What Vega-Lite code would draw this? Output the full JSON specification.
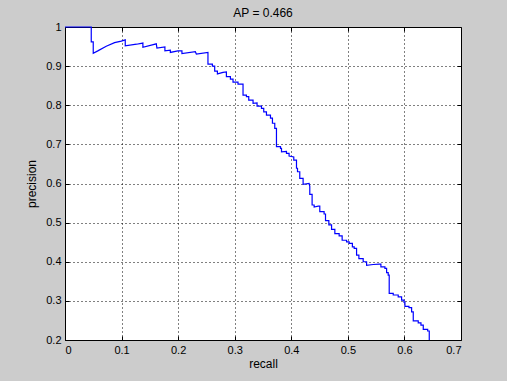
{
  "$schema": "https://vega.github.io/schema/vega-lite/v6.json",
  "width": 396,
  "height": 313,
  "autosize": {"type": "none"},
  "padding": {"left": 65, "top": 27, "right": 46, "bottom": 41},
  "background": "#cccccc",
  "title": {"text": "AP = 0.466", "font": "Liberation Sans", "fontSize": 12, "fontWeight": "normal", "color": "black", "offset": 1, "anchor": "middle"},
  "config": {
    "view": {"fill": "white", "stroke": "black", "strokeWidth": 1},
    "axis": {
      "labelFont": "Liberation Sans", "labelFontSize": 11, "labelColor": "black",
      "titleFont": "Liberation Sans", "titleFontSize": 12, "titleFontWeight": "normal", "titleColor": "black",
      "grid": true, "gridColor": "black", "gridDash": [1, 3], "gridOpacity": 1, "gridWidth": 1,
      "domain": false, "tickColor": "black", "tickSize": -4, "tickWidth": 1
    }
  },
  "data": {"values": [
    {"i":1,"recall":0,"precision":1.0},
    {"i":2,"recall":0.0464,"precision":1.0},
    {"i":3,"recall":0.0464,"precision":0.962},
    {"i":4,"recall":0.0499,"precision":0.962},
    {"i":5,"recall":0.0499,"precision":0.933},
    {"i":6,"recall":0.058,"precision":0.939},
    {"i":7,"recall":0.0729,"precision":0.951},
    {"i":8,"recall":0.0876,"precision":0.960},
    {"i":9,"recall":0.0995,"precision":0.964},
    {"i":10,"recall":0.1065,"precision":0.967},
    {"i":11,"recall":0.1065,"precision":0.952},
    {"i":12,"recall":0.1265,"precision":0.956},
    {"i":13,"recall":0.1377,"precision":0.959},
    {"i":14,"recall":0.1377,"precision":0.948},
    {"i":15,"recall":0.1614,"precision":0.957},
    {"i":16,"recall":0.1625,"precision":0.946},
    {"i":17,"recall":0.1766,"precision":0.949},
    {"i":18,"recall":0.1766,"precision":0.939},
    {"i":19,"recall":0.1862,"precision":0.941},
    {"i":20,"recall":0.1862,"precision":0.935},
    {"i":21,"recall":0.1996,"precision":0.939},
    {"i":22,"recall":0.2067,"precision":0.939},
    {"i":23,"recall":0.2067,"precision":0.932},
    {"i":24,"recall":0.2304,"precision":0.937},
    {"i":25,"recall":0.2322,"precision":0.931},
    {"i":26,"recall":0.2527,"precision":0.935},
    {"i":27,"recall":0.2527,"precision":0.905},
    {"i":28,"recall":0.2605,"precision":0.905},
    {"i":29,"recall":0.2605,"precision":0.900},
    {"i":30,"recall":0.2646,"precision":0.900},
    {"i":31,"recall":0.2646,"precision":0.887},
    {"i":32,"recall":0.2694,"precision":0.887},
    {"i":33,"recall":0.2694,"precision":0.880},
    {"i":34,"recall":0.2793,"precision":0.884},
    {"i":35,"recall":0.2853,"precision":0.885},
    {"i":36,"recall":0.2853,"precision":0.873},
    {"i":37,"recall":0.2924,"precision":0.873},
    {"i":38,"recall":0.2924,"precision":0.867},
    {"i":39,"recall":0.297,"precision":0.867},
    {"i":40,"recall":0.297,"precision":0.859},
    {"i":41,"recall":0.3058,"precision":0.859},
    {"i":42,"recall":0.3058,"precision":0.854},
    {"i":43,"recall":0.3147,"precision":0.854},
    {"i":44,"recall":0.3147,"precision":0.826},
    {"i":45,"recall":0.3207,"precision":0.826},
    {"i":46,"recall":0.3207,"precision":0.822},
    {"i":47,"recall":0.3248,"precision":0.822},
    {"i":48,"recall":0.3248,"precision":0.813},
    {"i":49,"recall":0.3324,"precision":0.813},
    {"i":50,"recall":0.3324,"precision":0.805},
    {"i":51,"recall":0.3395,"precision":0.806},
    {"i":52,"recall":0.3395,"precision":0.798},
    {"i":53,"recall":0.3473,"precision":0.798},
    {"i":54,"recall":0.3473,"precision":0.792},
    {"i":55,"recall":0.3513,"precision":0.792},
    {"i":56,"recall":0.3513,"precision":0.783},
    {"i":57,"recall":0.3561,"precision":0.783},
    {"i":58,"recall":0.3561,"precision":0.775},
    {"i":59,"recall":0.3632,"precision":0.775},
    {"i":60,"recall":0.3632,"precision":0.767},
    {"i":61,"recall":0.3667,"precision":0.767},
    {"i":62,"recall":0.3667,"precision":0.754},
    {"i":63,"recall":0.3708,"precision":0.754},
    {"i":64,"recall":0.3708,"precision":0.741},
    {"i":65,"recall":0.3738,"precision":0.741},
    {"i":66,"recall":0.3738,"precision":0.694},
    {"i":67,"recall":0.3809,"precision":0.694},
    {"i":68,"recall":0.3809,"precision":0.690},
    {"i":69,"recall":0.3827,"precision":0.690},
    {"i":70,"recall":0.3827,"precision":0.681},
    {"i":71,"recall":0.3915,"precision":0.682},
    {"i":72,"recall":0.3915,"precision":0.677},
    {"i":73,"recall":0.3961,"precision":0.677},
    {"i":74,"recall":0.3961,"precision":0.670},
    {"i":75,"recall":0.4044,"precision":0.668},
    {"i":76,"recall":0.4044,"precision":0.660},
    {"i":77,"recall":0.4092,"precision":0.660},
    {"i":78,"recall":0.4092,"precision":0.639},
    {"i":79,"recall":0.411,"precision":0.639},
    {"i":80,"recall":0.411,"precision":0.630},
    {"i":81,"recall":0.415,"precision":0.630},
    {"i":82,"recall":0.415,"precision":0.613},
    {"i":83,"recall":0.4209,"precision":0.613},
    {"i":84,"recall":0.4209,"precision":0.598},
    {"i":85,"recall":0.4315,"precision":0.600},
    {"i":86,"recall":0.4327,"precision":0.593},
    {"i":87,"recall":0.4327,"precision":0.572},
    {"i":88,"recall":0.4368,"precision":0.572},
    {"i":89,"recall":0.4368,"precision":0.545},
    {"i":90,"recall":0.4404,"precision":0.545},
    {"i":91,"recall":0.4404,"precision":0.540},
    {"i":92,"recall":0.4474,"precision":0.542},
    {"i":93,"recall":0.4504,"precision":0.542},
    {"i":94,"recall":0.4504,"precision":0.528},
    {"i":95,"recall":0.458,"precision":0.528},
    {"i":96,"recall":0.458,"precision":0.522},
    {"i":97,"recall":0.4605,"precision":0.522},
    {"i":98,"recall":0.4605,"precision":0.505},
    {"i":99,"recall":0.4664,"precision":0.505},
    {"i":100,"recall":0.4664,"precision":0.494},
    {"i":101,"recall":0.4712,"precision":0.494},
    {"i":102,"recall":0.4712,"precision":0.483},
    {"i":103,"recall":0.477,"precision":0.483},
    {"i":104,"recall":0.477,"precision":0.472},
    {"i":105,"recall":0.4846,"precision":0.472},
    {"i":106,"recall":0.4846,"precision":0.466},
    {"i":107,"recall":0.4899,"precision":0.466},
    {"i":108,"recall":0.4899,"precision":0.455},
    {"i":109,"recall":0.4977,"precision":0.455},
    {"i":110,"recall":0.4977,"precision":0.451},
    {"i":111,"recall":0.5023,"precision":0.451},
    {"i":112,"recall":0.5023,"precision":0.447},
    {"i":113,"recall":0.508,"precision":0.447},
    {"i":114,"recall":0.508,"precision":0.438},
    {"i":115,"recall":0.5112,"precision":0.438},
    {"i":116,"recall":0.5112,"precision":0.434},
    {"i":117,"recall":0.5154,"precision":0.434},
    {"i":118,"recall":0.5154,"precision":0.417},
    {"i":119,"recall":0.5195,"precision":0.417},
    {"i":120,"recall":0.5195,"precision":0.408},
    {"i":121,"recall":0.5271,"precision":0.408},
    {"i":122,"recall":0.5271,"precision":0.400},
    {"i":123,"recall":0.5331,"precision":0.400},
    {"i":124,"recall":0.5331,"precision":0.391},
    {"i":125,"recall":0.5448,"precision":0.393},
    {"i":126,"recall":0.5554,"precision":0.394},
    {"i":127,"recall":0.5584,"precision":0.394},
    {"i":128,"recall":0.5584,"precision":0.387},
    {"i":129,"recall":0.5655,"precision":0.387},
    {"i":130,"recall":0.5655,"precision":0.383},
    {"i":131,"recall":0.5685,"precision":0.383},
    {"i":132,"recall":0.5685,"precision":0.372},
    {"i":133,"recall":0.5713,"precision":0.372},
    {"i":134,"recall":0.5713,"precision":0.366},
    {"i":135,"recall":0.5731,"precision":0.366},
    {"i":136,"recall":0.5731,"precision":0.319},
    {"i":137,"recall":0.5802,"precision":0.319},
    {"i":138,"recall":0.5802,"precision":0.315},
    {"i":139,"recall":0.589,"precision":0.315},
    {"i":140,"recall":0.589,"precision":0.310},
    {"i":141,"recall":0.595,"precision":0.310},
    {"i":142,"recall":0.595,"precision":0.302},
    {"i":143,"recall":0.5991,"precision":0.302},
    {"i":144,"recall":0.5991,"precision":0.297},
    {"i":145,"recall":0.6009,"precision":0.297},
    {"i":146,"recall":0.6009,"precision":0.286},
    {"i":147,"recall":0.608,"precision":0.286},
    {"i":148,"recall":0.608,"precision":0.283},
    {"i":149,"recall":0.6127,"precision":0.283},
    {"i":150,"recall":0.6127,"precision":0.272},
    {"i":151,"recall":0.6156,"precision":0.272},
    {"i":152,"recall":0.6156,"precision":0.249},
    {"i":153,"recall":0.6244,"precision":0.249},
    {"i":154,"recall":0.6244,"precision":0.244},
    {"i":155,"recall":0.6292,"precision":0.244},
    {"i":156,"recall":0.6292,"precision":0.238},
    {"i":157,"recall":0.6333,"precision":0.238},
    {"i":158,"recall":0.6333,"precision":0.227},
    {"i":159,"recall":0.6411,"precision":0.227},
    {"i":160,"recall":0.6411,"precision":0.223},
    {"i":161,"recall":0.6439,"precision":0.223},
    {"i":162,"recall":0.6439,"precision":0.2}
  ]},
  "layer": [
    {
      "mark": {"type": "line", "color": "#0000ff", "strokeWidth": 1.2},
      "encoding": {
        "x": {"field": "recall", "type": "quantitative", "scale": {"domain": [0, 0.7], "nice": false, "zero": false},
              "axis": {"orient": "bottom", "values": [0,0.1,0.2,0.3,0.4,0.5,0.6,0.7], "format": ".1~f", "title": "recall", "labelPadding": 8, "titlePadding": 3}},
        "y": {"field": "precision", "type": "quantitative", "scale": {"domain": [0.2, 1], "nice": false, "zero": false},
              "axis": {"orient": "left", "values": [0.2,0.3,0.4,0.5,0.6,0.7,0.8,0.9,1], "format": ".1~f", "title": "precision", "labelPadding": 8, "titlePadding": 7}},
        "order": {"field": "i", "type": "quantitative"}
      }
    },
    {
      "mark": {"type": "line", "opacity": 0},
      "encoding": {
        "x": {"field": "recall", "type": "quantitative", "scale": {"domain": [0, 0.7], "nice": false, "zero": false},
              "axis": {"orient": "top", "values": [0.1,0.2,0.3,0.4,0.5,0.6], "labels": false, "grid": false, "title": null}},
        "y": {"field": "precision", "type": "quantitative", "scale": {"domain": [0.2, 1], "nice": false, "zero": false},
              "axis": {"orient": "right", "values": [0.3,0.4,0.5,0.6,0.7,0.8,0.9], "labels": false, "grid": false, "title": null}},
        "order": {"field": "i", "type": "quantitative"}
      }
    }
  ],
  "resolve": {"axis": {"x": "independent", "y": "independent"}}
}
